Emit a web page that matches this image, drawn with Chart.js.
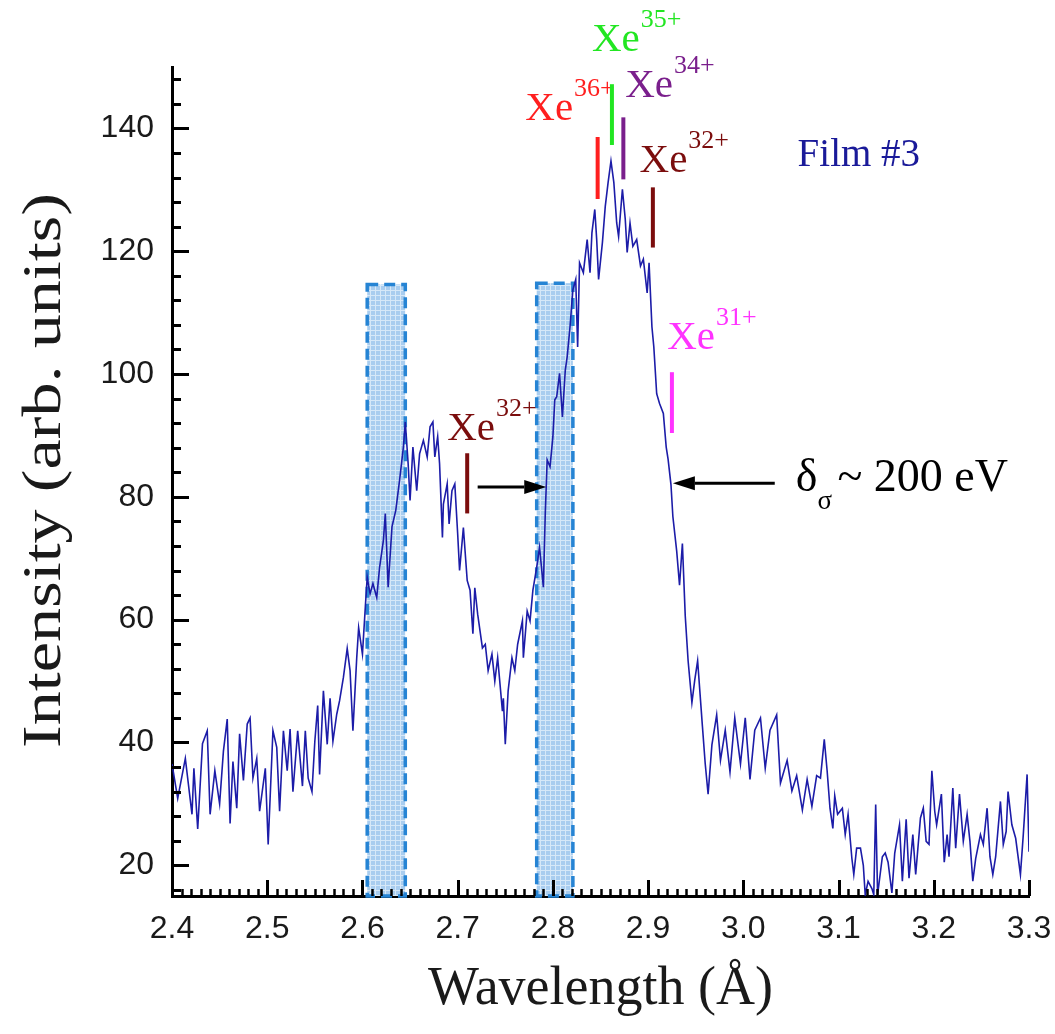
<!DOCTYPE html>
<html>
<head>
<meta charset="utf-8">
<script src="https://cdn.jsdelivr.net/npm/chart.js@4.4.1/dist/chart.umd.min.js"></script>
<style>
  html, body { margin: 0; padding: 0; background: #fff; }
  canvas { display: block; }
</style>
</head>
<body>
<canvas id="spectrum" width="1055" height="1034"></canvas>
<script>
// spectrum (wavelength in Å, intensity in arb. units)
const wavelength = [
  2.400,2.406,2.414,2.421,2.423,2.427,2.432,2.437,2.440,2.445,2.450,2.454,2.458,2.461,2.464,2.468,2.471,2.475,2.479,2.482,
  2.485,2.489,2.492,2.498,2.501,2.506,2.510,2.513,2.517,2.521,2.524,2.527,2.532,2.537,2.540,2.543,2.547,2.550,2.553,2.555,
  2.559,2.563,2.566,2.569,2.573,2.576,2.580,2.584,2.587,2.590,2.594,2.596,2.600,2.603,2.605,2.608,2.611,2.615,2.618,2.622,
  2.624,2.627,2.631,2.635,2.639,2.643,2.645,2.648,2.650,2.653,2.657,2.660,2.664,2.668,2.671,2.674,2.676,2.679,2.681,2.684,
  2.685,2.689,2.691,2.694,2.697,2.700,2.702,2.706,2.710,2.713,2.716,2.718,2.721,2.726,2.729,2.732,2.736,2.739,2.742,2.747,
  2.748,2.750,2.753,2.757,2.760,2.763,2.768,2.769,2.773,2.776,2.779,2.783,2.786,2.790,2.792,2.794,2.797,2.800,2.802,2.804,
  2.807,2.810,2.813,2.815,2.818,2.821,2.824,2.826,2.828,2.832,2.836,2.839,2.841,2.844,2.846,2.848,2.852,2.855,2.858,2.861,
  2.864,2.867,2.869,2.873,2.876,2.878,2.881,2.884,2.888,2.892,2.895,2.899,2.901,2.904,2.906,2.909,2.912,2.916,2.919,2.921,
  2.924,2.926,2.930,2.933,2.936,2.939,2.942,2.946,2.949,2.952,2.957,2.960,2.963,2.967,2.972,2.976,2.981,2.986,2.991,2.997,
  3.002,3.007,3.012,3.018,3.023,3.028,3.035,3.039,3.046,3.051,3.056,3.062,3.067,3.072,3.077,3.081,3.085,3.088,3.091,3.094,
  3.096,3.099,3.104,3.107,3.110,3.114,3.116,3.119,3.123,3.126,3.128,3.131,3.135,3.137,3.139,3.141,3.146,3.149,3.152,3.156,
  3.159,3.164,3.167,3.171,3.174,3.178,3.181,3.186,3.189,3.192,3.195,3.198,3.201,3.203,3.208,3.211,3.214,3.216,3.220,3.223,
  3.227,3.231,3.235,3.238,3.241,3.244,3.249,3.252,3.256,3.259,3.262,3.265,3.270,3.273,3.276,3.278,3.282,3.286,3.291,3.294,
  3.298,3.300
];
const intensity = [
  36.5,30.9,37.4,28.3,35.8,25.9,39.8,41.9,28.3,35.4,30.0,38.6,43.8,26.8,36.9,29.3,41.4,33.8,43.0,44.0,
  34.2,37.4,28.8,35.8,23.4,41.9,39.2,28.8,41.9,35.4,42.2,32.0,41.9,32.9,41.9,34.2,32.0,40.2,46.0,34.8,
  48.4,39.7,47.2,40.2,44.6,46.8,50.6,55.3,51.7,41.9,53.8,58.7,54.4,62.0,66.9,64.2,65.9,63.6,68.5,72.9,
  77.3,65.3,75.1,77.8,82.7,88.1,92.2,85.4,79.4,88.1,81.0,87.0,89.2,86.5,91.4,92.2,86.5,89.8,85.4,73.4,
  78.8,82.1,75.6,81.0,82.1,74.0,68.0,75.0,66.4,64.8,57.7,65.2,60.9,55.4,56.0,51.7,54.4,50.0,53.8,45.1,
  47.2,39.7,48.4,53.8,51.7,56.0,59.8,53.8,61.4,59.8,64.8,68.5,71.8,65.3,77.3,86.0,84.9,89.8,95.8,96.3,
  100.1,93.0,100.6,102.8,107.7,113.7,115.4,104.4,118.1,116.5,121.9,116.5,123.0,126.8,121.9,115.4,121.4,127.3,131.2,134.7,
  131.2,124.6,122.4,130.1,125.2,119.8,124.6,120.8,121.9,117.6,118.7,113.2,118.1,107.7,104.4,96.8,95.2,93.6,88.1,86.1,
  82.0,76.8,71.2,65.6,72.4,60.6,53.3,46.5,50.2,53.3,42.7,36.5,31.6,39.6,44.5,37.1,42.0,35.2,44.0,36.5,
  44.0,34.0,42.0,44.0,35.8,42.0,44.5,33.4,37.1,32.1,34.6,29.0,34.0,29.6,34.6,34.2,40.5,35.4,29.3,26.0,
  31.3,28.3,29.3,25.0,28.3,21.1,18.5,22.8,22.8,20.0,15.2,17.4,16.2,15.2,29.9,15.2,21.4,22.0,20.5,15.5,
  22.0,26.6,17.4,27.5,17.9,25.0,18.5,27.7,29.3,23.9,23.4,35.4,28.8,26.6,31.6,20.5,25.0,21.4,32.6,22.8,
  31.6,23.9,28.3,23.9,17.4,21.1,25.0,23.4,29.3,21.4,18.5,21.4,30.4,23.4,25.5,32.0,26.6,24.4,18.5,25.0,
  34.8,22.2
];

// axis ticks
const xTicks = [2.4, 2.5, 2.6, 2.7, 2.8, 2.9, 3.0, 3.1, 3.2, 3.3];
const yTicks = [20, 40, 60, 80, 100, 120, 140];

// shaded wavelength bands
const bandStart = [2.605, 2.783];
const bandEnd = [2.645, 2.821];
const bandTop = [114.6, 114.8];

// ion line markers
const ionCharge = ['36+', '35+', '34+', '32+', '32+', '31+'];
const ionX = [2.847, 2.862, 2.874, 2.905, 2.710, 2.925];
const ionLow = [128.5, 137.3, 131.7, 120.6, 77.3, 90.4];
const ionHigh = [138.6, 147.2, 141.8, 130.4, 87.1, 100.3];
const ionLabelX = [2.771, 2.841, 2.876, 2.891, 2.689, 2.920];
const ionLabelY = [141.4, 152.6, 145.1, 132.9, 89.2, 104.0];
const ionColor = ['#ff1f1f', '#22e622', '#7a1f8c', '#7b0d0d', '#7b0d0d', '#ff33ff'];

// arrows [from, to] at a given intensity
const arrowFrom = [2.721, 3.033];
const arrowTo = [2.793, 2.926];
const arrowY = [81.6, 82.2];

const LINE_COLOR = '#1c1ca8';
const SERIF = '"Liberation Serif", "Times New Roman", serif';
const SANS = '"Liberation Sans", Arial, sans-serif';

function bandPattern(ctx) {
  const c = document.createElement('canvas');
  c.width = 5; c.height = 5;
  const p = c.getContext('2d');
  p.fillStyle = '#a9cdef';
  p.fillRect(0, 0, 5, 5);
  p.fillStyle = '#d6e8f8';
  p.fillRect(0, 0, 5, 1);
  p.fillRect(0, 0, 1, 5);
  return ctx.createPattern(c, 'repeat');
}

const bandsPlugin = {
  id: 'bands',
  beforeDatasetsDraw(chart) {
    const { ctx, scales: { x, y } } = chart;
    const pat = bandPattern(ctx);
    ctx.save();
    bandStart.forEach((s, i) => {
      const x0 = x.getPixelForValue(s);
      const x1 = x.getPixelForValue(bandEnd[i]);
      const y0 = y.getPixelForValue(bandTop[i]);
      const y1 = y.bottom;
      ctx.fillStyle = pat;
      ctx.fillRect(x0, y0, x1 - x0, y1 - y0);
      ctx.setLineDash([11, 6]);
      ctx.lineWidth = 3.5;
      ctx.strokeStyle = '#2684d4';
      ctx.strokeRect(x0, y0, x1 - x0, y1 - y0);
    });
    ctx.restore();
  }
};

const ticksPlugin = {
  id: 'inwardTicks',
  afterDatasetsDraw(chart) {
    const { ctx, scales: { x, y } } = chart;
    ctx.save();
    ctx.strokeStyle = '#000';
    // y: major every 20, minor every 4
    for (let v = 16; v <= 148; v += 4) {
      const py = Math.round(y.getPixelForValue(v)) + 0.5;
      const major = v % 20 === 0;
      ctx.lineWidth = 3;
      ctx.beginPath();
      ctx.moveTo(y.right, py);
      ctx.lineTo(y.right + (major ? 17 : 9), py);
      ctx.stroke();
    }
    // x: major every 0.1, minor every 0.01
    for (let k = 240; k <= 330; k++) {
      const px = Math.round(x.getPixelForValue(k / 100)) + 0.5;
      const major = k % 10 === 0;
      ctx.lineWidth = major ? 3 : 2.5;
      ctx.beginPath();
      ctx.moveTo(px, x.top);
      ctx.lineTo(px, x.top - (major ? 16 : 7));
      ctx.stroke();
    }
    ctx.restore();
  }
};

function drawArrow(ctx, x0, x1, yy) {
  const dir = x1 > x0 ? 1 : -1;
  const head = 22;
  ctx.beginPath();
  ctx.moveTo(x0, yy);
  ctx.lineTo(x1 - dir * head, yy);
  ctx.stroke();
  ctx.beginPath();
  ctx.moveTo(x1, yy);
  ctx.lineTo(x1 - dir * head, yy - 7);
  ctx.lineTo(x1 - dir * head, yy + 7);
  ctx.closePath();
  ctx.fill();
}

const notesPlugin = {
  id: 'notes',
  afterDatasetsDraw(chart) {
    const { ctx, scales: { x, y } } = chart;
    ctx.save();
    ctx.textBaseline = 'alphabetic';
    ctx.textAlign = 'left';
    ionX.forEach((v, i) => {
      const px = x.getPixelForValue(v);
      ctx.strokeStyle = ionColor[i];
      ctx.lineWidth = 4;
      ctx.beginPath();
      ctx.moveTo(px, y.getPixelForValue(ionHigh[i]));
      ctx.lineTo(px, y.getPixelForValue(ionLow[i]));
      ctx.stroke();

      const lx = x.getPixelForValue(ionLabelX[i]);
      const ly = y.getPixelForValue(ionLabelY[i]);
      ctx.fillStyle = ionColor[i];
      ctx.font = '41px ' + SERIF;
      ctx.fillText('Xe', lx, ly);
      const w = ctx.measureText('Xe').width;
      ctx.font = '26px ' + SERIF;
      ctx.fillText(ionCharge[i], lx + w + 1, ly - 24);
    });

    // Film label
    ctx.fillStyle = '#1a1a99';
    ctx.font = '39px ' + SERIF;
    ctx.fillText('Film #3', x.getPixelForValue(3.057), y.getPixelForValue(133.8));

    // arrows
    ctx.strokeStyle = '#000';
    ctx.fillStyle = '#000';
    ctx.lineWidth = 3;
    arrowFrom.forEach((a, i) => {
      const yy = y.getPixelForValue(arrowY[i]);
      drawArrow(ctx, x.getPixelForValue(a), x.getPixelForValue(arrowTo[i]), yy);
    });

    // width annotation
    const tx = x.getPixelForValue(3.055);
    const ty = y.getPixelForValue(81.0);
    ctx.font = '46px ' + SERIF;
    ctx.fillText('\u03B4', tx, ty);
    const dw = ctx.measureText('\u03B4').width;
    ctx.font = '27px ' + SERIF;
    ctx.fillText('\u03C3', tx + dw, ty + 18);
    ctx.font = '46px ' + SERIF;
    ctx.fillText('~ 200 eV', tx + dw + 20, ty);
    ctx.restore();
  }
};

// y-axis title, drawn a little stretched along its length as in the figure
const yTitlePlugin = {
  id: 'yTitle',
  afterDraw(chart) {
    const { ctx, chartArea } = chart;
    ctx.save();
    ctx.translate(46, (chartArea.top + chartArea.bottom) / 2 - 11);
    ctx.rotate(-Math.PI / 2);
    ctx.scale(1.24, 1.0);
    ctx.fillStyle = '#1a1a1a';
    ctx.font = '55px ' + SERIF;
    ctx.textAlign = 'center';
    ctx.textBaseline = 'middle';
    ctx.fillText('Intensity (arb. units)', 0, 0);
    ctx.restore();
  }
};

const ctx = document.getElementById('spectrum').getContext('2d');
new Chart(ctx, {
  type: 'line',
  data: {
    datasets: [{
      data: wavelength.map((w, i) => ({ x: w, y: intensity[i] })),
      borderColor: LINE_COLOR,
      borderWidth: 1.6,
      pointRadius: 0,
      tension: 0,
      fill: false
    }]
  },
  options: {
    responsive: false,
    animation: false,
    events: [],
    layout: { padding: { top: 67, right: 26, left: 0, bottom: 0 } },
    plugins: {
      legend: { display: false },
      tooltip: { enabled: false }
    },
    scales: {
      x: {
        type: 'linear',
        min: 2.4,
        max: 3.3,
        afterBuildTicks: s => { s.ticks = xTicks.map(v => ({ value: v })); },
        afterFit: s => { s.height = 138; s.paddingLeft = 0; s.paddingRight = 0; },
        grid: { display: false, drawTicks: false },
        border: { display: true, color: '#000', width: 3 },
        ticks: {
          padding: 14,
          color: '#1a1a1a',
          font: { family: SANS, size: 32 },
          maxRotation: 0,
          callback: v => v.toFixed(1)
        },
        title: {
          display: true,
          text: 'Wavelength (\u00C5)',
          color: '#1a1a1a',
          font: { family: SERIF, size: 54 },
          padding: { top: 0, bottom: 12 }
        }
      },
      y: {
        type: 'linear',
        min: 15,
        max: 150,
        afterBuildTicks: s => { s.ticks = yTicks.map(v => ({ value: v })); },
        afterFit: s => { s.width = 172; },
        grid: { display: false, drawTicks: false },
        border: { display: true, color: '#000', width: 3 },
        ticks: {
          padding: 18,
          color: '#1a1a1a',
          font: { family: SANS, size: 32 },
          callback: v => String(v)
        },
        title: { display: false }
      }
    }
  },
  plugins: [bandsPlugin, ticksPlugin, notesPlugin, yTitlePlugin]
});
</script>
</body>
</html>
